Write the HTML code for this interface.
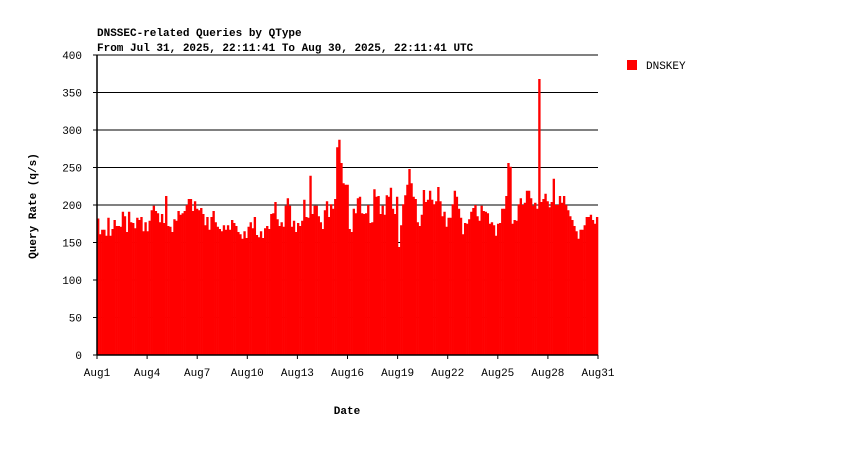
<!DOCTYPE html>
<html><head><meta charset="utf-8"><style>
body{margin:0;background:#fff;}
svg text{font-family:"Liberation Mono",monospace;font-size:11px;fill:#000;}
</style></head><body>
<svg id="chart" width="850" height="450" xmlns="http://www.w3.org/2000/svg">
<rect width="850" height="450" fill="#fff"/>
<text x="97" y="36" font-weight="bold">DNSSEC-related Queries by QType</text>
<text x="97" y="51" font-weight="bold">From Jul 31, 2025, 22:11:41 To Aug 30, 2025, 22:11:41 UTC</text>
<g id="grid"></g>
<g id="bars"></g>
<g id="axes"></g>
<text x="36" y="206" font-weight="bold" text-anchor="middle" transform="rotate(-90 36 206)">Query Rate (q/s)</text>
<text x="347" y="414" font-weight="bold" text-anchor="middle">Date</text>
<g>
<rect x="627" y="60" width="10" height="10" fill="#ff0000"/>
<text x="646" y="69">DNSKEY</text>
</g>
</svg>
<script>
const values = [182,161,167,167,159,183,159,168,180,172,172,171,191,185,164,191,177,176,169,183,180,184,165,177,165,179,193,199,192,189,177,188,176,212,172,171,164,181,179,192,187,189,192,200,208,208,192,205,195,193,196,188,173,184,167,184,192,177,171,168,165,173,
167,173,167,180,176,172,164,161,155,165,156,171,177,169,184,160,157,165,156,169,172,168,188,189,204,181,172,177,171,199,209,199,171,179,164,176,172,179,207,184,183,239,188,199,199,185,177,168,193,205,184,201,195,208,277,287,256,229,227,227,
168,164,195,189,209,211,189,188,189,200,176,177,221,211,212,188,199,187,213,211,223,195,188,211,144,173,201,213,227,248,229,211,208,177,172,187,220,204,207,219,207,201,205,224,205,185,191,171,183,183,201,219,211,195,183,161,176,175,181,191,196,200,
185,179,199,192,191,189,175,177,173,159,175,176,195,195,212,256,251,175,180,179,201,209,200,203,219,219,209,199,203,195,368,204,208,215,205,197,204,235,200,200,212,203,212,200,193,185,180,172,165,155,167,167,173,184,184,187,180,175,184];
const yTicks = [0,50,100,150,200,250,300,350,400];
const xTickLabels = ["Aug1","Aug4","Aug7","Aug10","Aug13","Aug16","Aug19","Aug22","Aug25","Aug28","Aug31"];
const xTickDays = [0,3,6,9,12,15,18,21,24,27,30];
const totalDays = 30;

const NS="http://www.w3.org/2000/svg";
const X0=97,X1=598,Y0=355,Y1=55,YMAX=400;
const y=v=>Y0-(v/YMAX)*(Y0-Y1);
const xd=d=>X0+(d/totalDays)*(X1-X0);
function mk(tag,attrs,parent){const e=document.createElementNS(NS,tag);for(const k in attrs)e.setAttribute(k,attrs[k]);parent.appendChild(e);return e;}
const grid=document.getElementById('grid'),bars=document.getElementById('bars'),axes=document.getElementById('axes');
yTicks.forEach(t=>{
  if(t>0){const l=mk('line',{x1:X0,x2:X1,y1:y(t),y2:y(t),stroke:'#000','stroke-width':1},grid);
  
  }
  const tk=mk('line',{x1:X0-4,x2:X0,y1:y(t),y2:y(t),stroke:'#000'},axes);
  
  
  const tx=mk('text',{x:82,y:y(t)+4,'text-anchor':'end'},axes);
  tx.textContent=t;
  
  
});
const bw=(X1-X0)/values.length;
values.forEach((v,i)=>{
  const r=mk('rect',{x:X0+i*bw,y:y(v),width:bw+0.3,height:Y0-y(v),fill:'#ff0000'},bars);
  
  
});
const ax=mk('line',{x1:X0,x2:X0,y1:Y1,y2:Y0,stroke:'#000','stroke-width':1.5},axes);


const bx=mk('line',{x1:X0,x2:X1,y1:Y0,y2:Y0,stroke:'#000','stroke-width':1.5},axes);


xTickDays.forEach((d,i)=>{
  const tk=mk('line',{x1:xd(d),x2:xd(d),y1:Y0,y2:Y0+4,stroke:'#000'},axes);
  
  
  const tx=mk('text',{x:xd(d),y:376,'text-anchor':'middle'},axes);
  tx.textContent=xTickLabels[i];
  
  
});
</script>
</body></html>
